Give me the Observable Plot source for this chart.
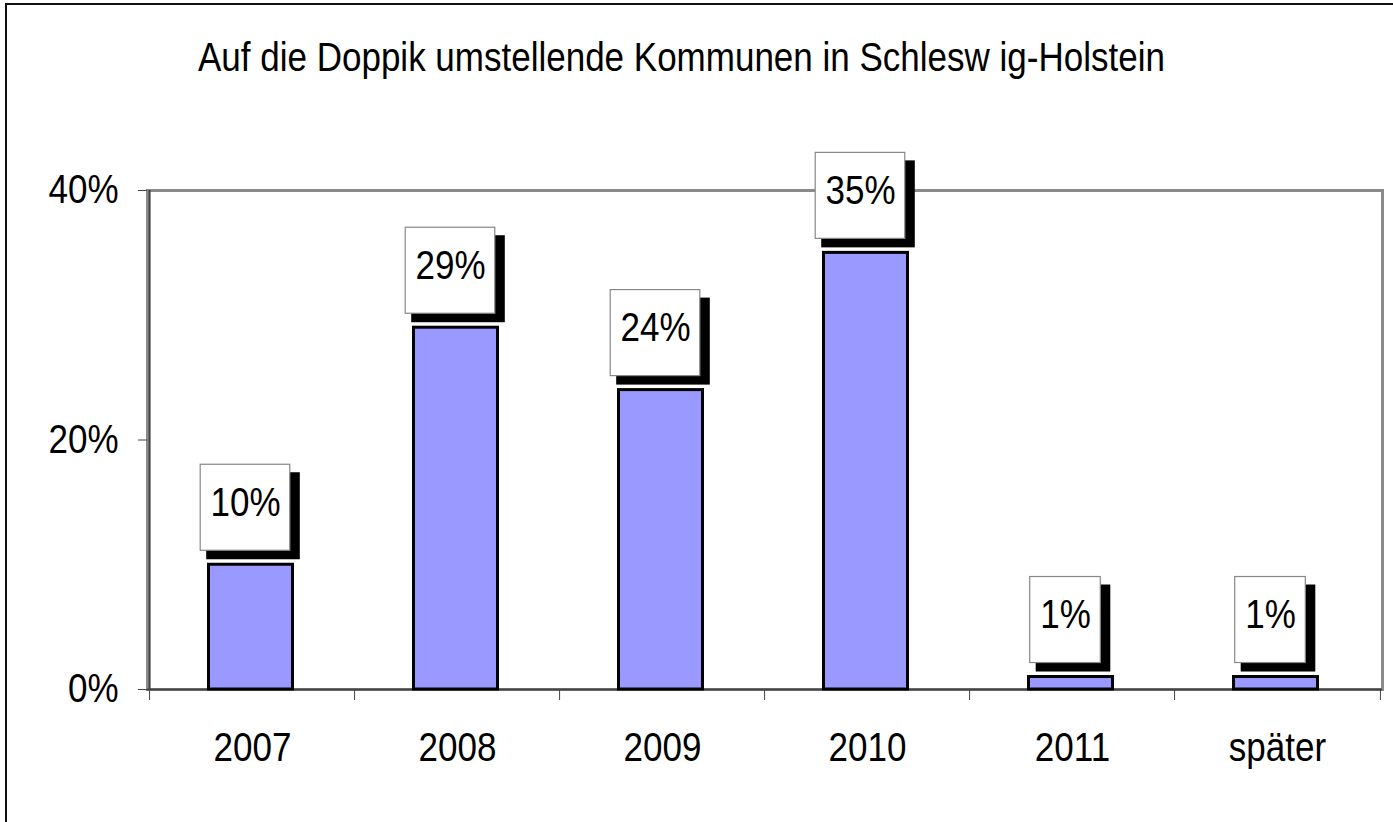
<!DOCTYPE html>
<html>
<head>
<meta charset="utf-8">
<script src="https://cdn.jsdelivr.net/npm/d3@7"></script>
<script src="https://cdn.jsdelivr.net/npm/@observablehq/plot@0.6"></script>
<style>
  html, body { margin: 0; padding: 0; background: #fff; overflow: hidden; }
  #wrap { position: relative; width: 1393px; height: 822px; overflow: hidden; }
  #frame { position: absolute; left: 5px; top: 3px; width: 1400px; height: 830px; border: 2px solid #111; box-sizing: border-box; pointer-events: none; }
  #title { position: absolute; left: 198px; top: 37px; font-family: "Liberation Sans", Arial, sans-serif; font-size: 40px; line-height: 40px; color: #000; white-space: pre; transform: scaleX(0.875); transform-origin: 0 0; }
  #chart { position: absolute; left: 0; top: 0; }
</style>
</head>
<body>
<div id="wrap">
  <div id="chart"></div>
  <div id="frame"></div>
  <div id="title">Auf die Doppik umstellende Kommunen in Schlesw ig-Holstein</div>
</div>
<script>
const categories = ["2007", "2008", "2009", "2010", "2011", "später"];
const values = [10, 29, 24, 35, 1, 1];
const valueLabels = ["10%", "29%", "24%", "35%", "1%", "1%"];
const yTicks = [0, 20, 40];
const yTickLabels = ["0%", "20%", "40%"];

const data = categories.map((c, i) => ({category: c, value: values[i], label: valueLabels[i]}));

const W = 1393, H = 822, mL = 147, mR = 11, mT = 190, mB = 133;
const step = (W - mL - mR) / categories.length;
const half = step / 2;
const FONT = '"Liberation Sans", Arial, sans-serif';
const SQUEEZE = 0.875;

const isLong = d => d.label.length > 2;
const isShort = d => d.label.length <= 2;

const chart = Plot.plot({
  width: W,
  height: H,
  marginLeft: mL,
  marginRight: mR,
  marginTop: mT,
  marginBottom: mB,
  style: {fontFamily: FONT, fontSize: "40px", background: "transparent", color: "#000", overflow: "visible"},
  x: {type: "band", domain: categories, paddingInner: 0.59, paddingOuter: 0.295, label: null},
  y: {domain: [0, 40], label: null},
  marks: [
    Plot.frame({stroke: "#8a8a8a", strokeWidth: 3}),
    // left axis line
    Plot.ruleX([categories[0]], {x: d => d, y1: 0, y2: 40, dx: -half, stroke: "#444", strokeWidth: 2}),
    // bottom axis line
    Plot.ruleY([0], {stroke: "#444", strokeWidth: 2}),
    // category boundary ticks
    Plot.axisX({ticks: categories, tickSize: 11, tickFormat: () => "", dx: -half, stroke: "#444", label: null}),
    Plot.axisX({ticks: [categories[categories.length - 1]], tickSize: 11, tickFormat: () => "", dx: half, stroke: "#444", label: null}),
    // category labels
    Plot.axisX({tickSize: 0, tickPadding: 43, fontSize: 40, label: null}),
    // y axis
    Plot.axisY({ticks: yTicks, tickFormat: d => yTickLabels[yTicks.indexOf(d)], tickSize: 9, tickPadding: 20, fontSize: 40, stroke: "#444", label: null}),
    // bars
    Plot.barY(data, {x: "category", y: "value", fill: "#9999ff", stroke: "#000", strokeWidth: 3, dx: -1.5}),
    // label shadows
    Plot.barY(data, {filter: isLong, x: "category", y1: "value", y2: "value", fill: "#000", insetTop: -92, insetBottom: 5, insetLeft: -4.8, insetRight: -4.8, dx: 1}),
    Plot.barY(data, {filter: isShort, x: "category", y1: "value", y2: "value", fill: "#000", insetTop: -92, insetBottom: 5, insetLeft: 4.7, insetRight: 4.7, dx: 1}),
    // label boxes
    Plot.barY(data, {filter: isLong, x: "category", y1: "value", y2: "value", fill: "#fff", stroke: "#888", strokeWidth: 1.2, insetTop: -100, insetBottom: 14, insetLeft: -2.8, insetRight: -2.8, dx: -7}),
    Plot.barY(data, {filter: isShort, x: "category", y1: "value", y2: "value", fill: "#fff", stroke: "#888", strokeWidth: 1.2, insetTop: -100, insetBottom: 14, insetLeft: 6.7, insetRight: 6.7, dx: -7}),
    // label texts
    Plot.text(data, {x: "category", y: "value", text: "label", dy: -62, dx: -7, fontSize: 40, fill: "#000"})
  ]
});

document.getElementById("chart").appendChild(chart);

// Narrow the glyphs horizontally, like the condensed typeface of the original
chart.querySelectorAll("text").forEach(t => {
  const targets = t.querySelectorAll("tspan").length ? t.querySelectorAll("tspan") : [t];
  targets.forEach(el => {
    const len = el.getComputedTextLength();
    if (len > 0) {
      el.setAttribute("textLength", (len * SQUEEZE).toFixed(2));
      el.setAttribute("lengthAdjust", "spacingAndGlyphs");
    }
  });
});
</script>
</body>
</html>
